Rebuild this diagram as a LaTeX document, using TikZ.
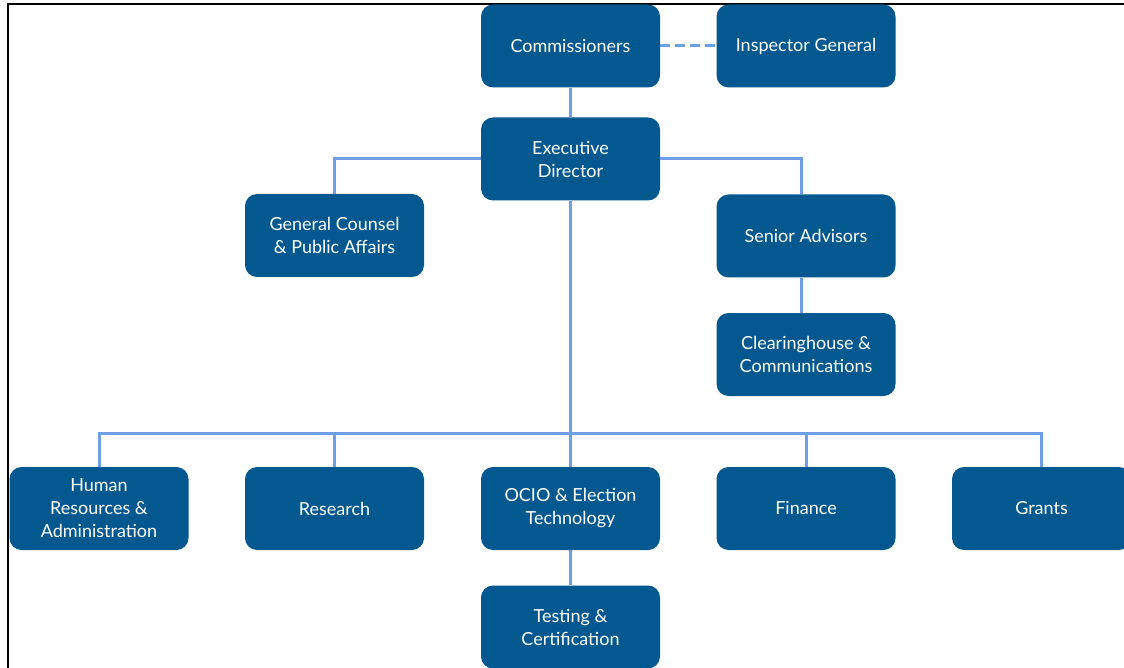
\documentclass[tikz,border=0pt]{standalone}
\usepackage{fontspec}
\setmainfont{Lato}
\definecolor{boxblue}{HTML}{02588F}
\definecolor{linkblue}{HTML}{6E9FE6}
\begin{document}
\begin{tikzpicture}[x=1pt,y=-1pt,
  unit/.style={fill=boxblue, rounded corners=12pt, minimum width=179pt, minimum height=83pt,
    text=white, align=center, font=\fontsize{18}{23}\selectfont, inner sep=2pt},
  link/.style={draw=linkblue, line width=3pt},
  dashlink/.style={link, dash pattern=on 10pt off 5pt}]
\useasboundingbox (0,0) rectangle (1124,668);
\clip (0,0) rectangle (1124,668);
\draw[line width=1.5pt] (8,668) -- (8,4) -- (1124,4);
% nodes
\node[unit] (com) at (570.5,46) {Commissioners};
\node[unit] (ig) at (806,46) {Inspector General};
\node[unit] (ed) at (570.5,159) {Executive\\Director};
\node[unit] (gc) at (334.5,235.5) {General Counsel\\\& Public Affairs};
\node[unit] (sa) at (806,236) {Senior Advisors};
\node[unit] (ch) at (806,354.5) {Clearinghouse \&\\Communications};
\node[unit] (hr) at (99,508.5) {Human\\Resources \&\\Administration};
\node[unit] (re) at (334.5,508.5) {Research};
\node[unit] (oc) at (570.5,508.5) {OCIO \& Election\\Technology};
\node[unit] (fi) at (806,508.5) {Finance};
\node[unit] (gr) at (1041.5,508.5) {Grants};
\node[unit] (te) at (570.5,627) {Testing \&\\Certification};
\coordinate (bus) at (570.5,433);
% connectors
\draw[dashlink] (com.east) -- (ig.west);
\draw[link] (com.south) -- (ed.north);
\draw[link] (ed.west) -| (gc.north);
\draw[link] (ed.east) -| ([xshift=-5pt]sa.north);
\draw[link] ([xshift=-5pt]sa.south) -- ([xshift=-5pt]ch.north);
\draw[link] (ed.south) -- (oc.north);
\draw[link] (hr.north) |- (bus) -| (gr.north);
\draw[link] (re.north) -- (re.north |- bus);
\draw[link] (fi.north) -- (fi.north |- bus);
\draw[link] (oc.south) -- (te.north);
\end{tikzpicture}
\end{document}
